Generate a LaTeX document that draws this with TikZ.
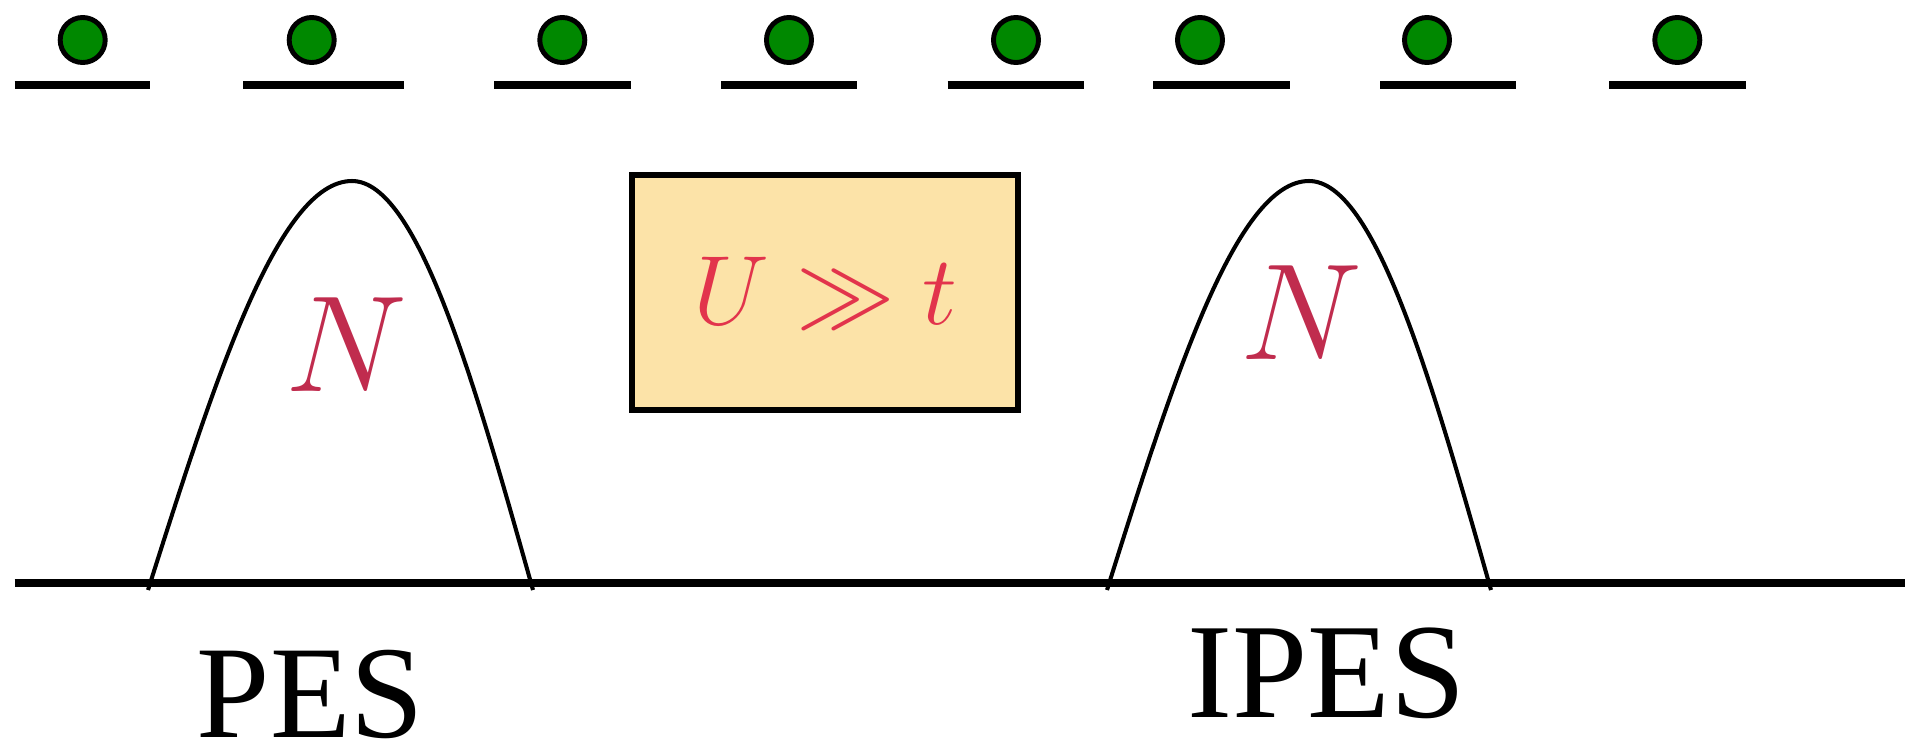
\RequirePackage{fix-cm}
\documentclass[tikz,border=0pt]{standalone}
\usepackage{fontspec}
\setmainfont{Liberation Serif}

\definecolor{siteGreen}{RGB}{0,136,0}
\definecolor{nRed}{RGB}{192,44,78}
\definecolor{uRed}{RGB}{226,52,76}
\definecolor{boxFill}{RGB}{252,227,168}

\begin{document}
\begin{tikzpicture}[
    x=0.01cm, y=-0.01cm,
    site/.style={circle, draw, line width=1.4pt, fill=siteGreen,
      minimum size=0.45cm, inner sep=0pt},
    level/.style={line width=2.3pt},
    hump/.style={line width=1.15pt},
    spectrum/.style={anchor=base, inner sep=0pt, font=\fontsize{37.5}{44}\selectfont},
    weight/.style={anchor=base, inner sep=0pt, text=nRed, font=\fontsize{39}{46}\selectfont},
    regime/.style={draw, line width=1.5pt, fill=boxFill, text=uRed,
      minimum width=3.86cm, minimum height=2.35cm, inner sep=0pt,
      font=\fontsize{28}{34}\selectfont}
]
  \useasboundingbox (0,0) rectangle (1905,748);

  % Gitterplaetze: linkes Ende / rechtes Ende / Teilchen
  \foreach \l/\r/\c [count=\i] in {14.7/150/82.7, 243.3/404/311.7,
      494.3/630.7/562.3, 721/857.3/789, 947.7/1084.3/1016,
      1153.3/1289.7/1200, 1380/1516/1427, 1609.3/1746/1677.3} {
    \coordinate (l\i) at (\l,85);
    \coordinate (r\i) at (\r,85);
    \draw[level] (l\i) -- (r\i);
    \node[site] (s\i) at (\c,40) {};
  }

  % Energieachse
  \coordinate (axisL) at (14.6,583.3);
  \coordinate (axisR) at (1905,583.3);
  \draw[line width=2.2pt] (axisL) -- (axisR);

  % Spektren
  \coordinate (pesL) at (148,590);
  \coordinate (pesTop) at (352,181);
  \coordinate (pesR) at (533,590);
  \draw[hump] (pesL) sin (pesTop) cos (pesR);

  \coordinate (ipesL) at (1107,590);
  \coordinate (ipesTop) at (1309,181);
  \coordinate (ipesR) at (1491,590);
  \draw[hump] (ipesL) sin (ipesTop) cos (ipesR);

  \node[weight] (nPes) at (346,391) {$N$};
  \node[weight] (nIpes) at (1301,359) {$N$};

  % Bedingung
  \node[regime] (cond) at (825,292.5) {$U \gg t$};

  % Beschriftung
  \node[spectrum] (pes) at (310.5,737) {PES};
  \node[spectrum, font=\fontsize{38.5}{46}\selectfont] (ipes) at (1326.5,717) {IPES};

\end{tikzpicture}
\end{document}
